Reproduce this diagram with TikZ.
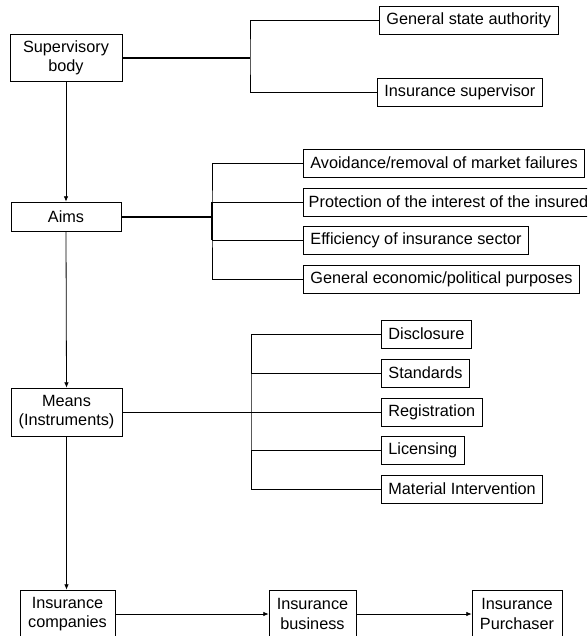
\documentclass[tikz,border=0pt]{standalone}
\usepackage{fontspec}
\setmainfont{Liberation Sans}
\usetikzlibrary{arrows.meta}
\begin{document}
\begin{tikzpicture}[x=0.75pt,y=0.75pt,yscale=-1,xscale=1,
        box/.style={draw, line width=0.6pt, inner xsep=5.25pt, inner ysep=0pt, minimum height=21pt, align=center, font=\fontsize{12.2}{14.5}\selectfont},
        link/.style={line width=0.6pt},
        boldlink/.style={line width=1.5pt},
        arr/.style={link, -{Latex[length=4pt,width=3.5pt]}}]
        \clip (0,0) rectangle (587,636);

        % Text Node
        \node[box, minimum width=84pt, minimum height=35.25pt] (sb) at (66,57.5) {Supervisory\\body};
        % Text Node
        \node[box, anchor=west] (gsa) at (379,20) {General state authority};
        % Text Node
        \node[box, anchor=west] (isup) at (377,92) {Insurance supervisor};

        % Text Node
        \node[box, minimum width=82.5pt, minimum height=21.75pt] (aims) at (66,216.5) {Aims};
        % Text Node
        \node[box, anchor=west] (a1) at (303,163) {Avoidance/removal of market failures};
        % Text Node
        \node[box, anchor=west, inner xsep=4pt] (a2) at (303,202) {Protection of the interest of the insured};
        % Text Node
        \node[box, anchor=west] (a3) at (303,240) {Efficiency of insurance sector};
        % Text Node
        \node[box, anchor=west] (a4) at (303,279) {General economic/political purposes};

        % Text Node
        \node[box, minimum width=83.25pt, minimum height=36pt] (means) at (66.5,412) {Means\\(Instruments)};
        % Text Node
        \node[box, anchor=west] (m1) at (381,334) {Disclosure};
        % Text Node
        \node[box, anchor=west] (m2) at (381,373) {Standards};
        % Text Node
        \node[box, anchor=west] (m3) at (381,412) {Registration};
        % Text Node
        \node[box, anchor=west] (m4) at (381,450.5) {Licensing};
        % Text Node
        \node[box, anchor=west] (m5) at (381,489) {Material Intervention};

        % Text Node
        \node[box, minimum width=71.25pt, minimum height=36pt] (ic) at (67.5,614) {Insurance\\companies};
        % Text Node
        \node[box, minimum width=65.25pt, minimum height=36pt] (ib) at (312.5,614) {Insurance\\business};
        % Text Node
        \node[box, minimum width=67.5pt, minimum height=36pt] (ip) at (517,614) {Insurance\\Purchaser};

        % Junctions
        \coordinate (sbj) at (250,57.5);
        \coordinate (aimsj) at (212,216.5);
        \coordinate (mj) at (251,412);

        % Supervisory body bracket
        \draw[boldlink] (sb.east) -- (sbj);
        \draw[link] (gsa.west) -| (sbj) |- (isup.west);

        % Aims bracket
        \draw[boldlink] (aims.east) -- (aimsj);
        \draw[boldlink] (aimsj |- a2.west) -- (aimsj |- a3.west);
        \draw[link] (a1.west) -| (aimsj) |- (a4.west);
        \draw[link] (aimsj |- a2.west) -- (a2.west);
        \draw[link] (aimsj |- a3.west) -- (a3.west);

        % Means bracket
        \draw[link] (means.east) -- (mj);
        \draw[link] (m1.west) -| (mj) |- (m5.west);
        \draw[link] (mj |- m2.west) -- (m2.west);
        \draw[link] (mj) -- (m3.west);
        \draw[link] (mj |- m4.west) -- (m4.west);

        % Arrows
        \draw[arr] (sb.south) -- (aims.north);
        \draw[arr] (aims.south) -- (means.north);
        \draw[arr] (means.south) -- (means.south |- ic.north);
        \draw[arr] (ic.east) -- (ib.west);
        \draw[arr] (ib.east) -- (ip.west);

\end{tikzpicture}
\end{document}
